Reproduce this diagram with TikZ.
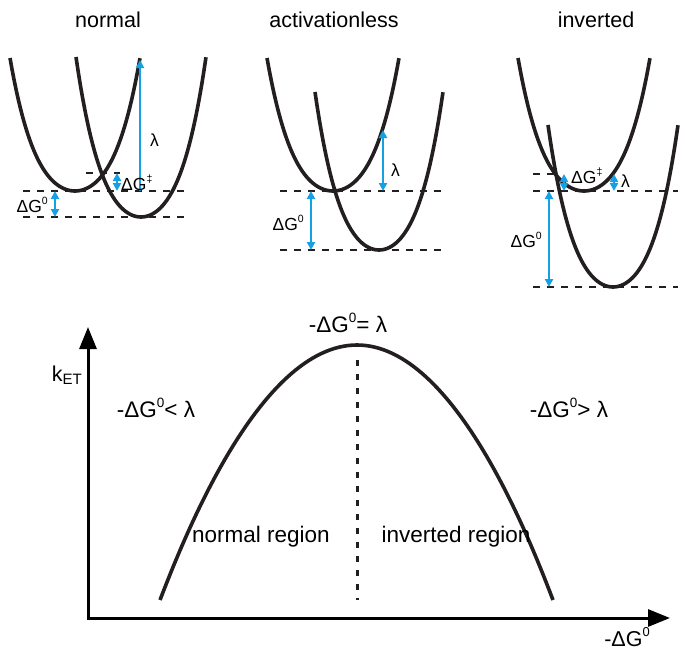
\documentclass[tikz,border=0pt]{standalone}
\usepackage{fontspec}
\setmainfont{Liberation Sans}
\definecolor{etblue}{RGB}{20,160,226}
\definecolor{etblack}{RGB}{35,31,32}
\usetikzlibrary{arrows.meta}
\newcommand{\supsc}[1]{\raisebox{0.85ex}{\scalebox{0.6}{#1}}}

\begin{document}
\begin{tikzpicture}[x=1pt,y=-1pt,
  well/.style={line width=3.6pt, etblack},
  level/.style={line width=2.6pt, etblack, dash pattern=on 7pt off 7pt},
  gap/.style={line width=2.6pt, etblue, {Triangle[length=8pt,width=8pt]}-{Triangle[length=8pt,width=8pt]}},
  rise/.style={line width=2.6pt, etblue, -{Triangle[length=8pt,width=8pt]}},
  axis/.style={line width=3pt, black, -{Triangle[length=22pt,width=17pt]}},
  lbl/.style={font=\fontsize{17.5}{20}\selectfont, inner sep=0pt},
  big/.style={font=\fontsize{21.5}{24}\selectfont, inner sep=0pt},
  plotlbl/.style={font=\fontsize{22.5}{25}\selectfont, inner sep=0pt}]
  \useasboundingbox (0,0) rectangle (685,651);
  % panel titles
  \node[big] (t-normal) at (108,20) {normal};
  \node[big] (t-actless) at (334,20) {activationless};
  \node[big] (t-inv) at (596,20) {inverted};
  % potential wells: centre/minimum/half width/height
  \foreach \cx/\ym/\w/\h in {75/191/65/133, 141/217/65/160,
                             333/191/66/133, 379/250/64/158,
                             584/191/66/133, 613/287/65/162}
    \draw[well] plot[domain=-1:1, samples=61, smooth]
      ({\cx+\w*\x},{\ym-\h*(0.6*\x*\x+0.4*\x*\x*\x*\x)});

  % normal
  \draw[level] (23,191) -- (185,191);
  \draw[level] (23,217) -- (185,217);
  \draw[level] (86,173) -- (120,173);
  \coordinate (n-a) at (140,191);
  \coordinate (n-b) at (140,60);
  \coordinate (n-c) at (117,173);
  \coordinate (n-d) at (117,191);
  \coordinate (n-e) at (55,191);
  \coordinate (n-f) at (55,217);
  \draw[rise] (n-a) -- (n-b);
  \draw[gap] (n-c) -- (n-d);
  \draw[gap] (n-e) -- (n-f);
  \node[lbl, anchor=west] (n-lambda) at (150,140) {λ};
  \node[lbl, anchor=west] (n-act) at (121,183) {ΔG\supsc{‡}};
  \node[lbl, anchor=east] (n-dg) at (48,205) {ΔG\supsc{0}};

  % activationless
  \draw[level] (280,191) -- (443,191);
  \draw[level] (280,250) -- (443,250);
  \coordinate (a-a) at (383,130);
  \coordinate (a-b) at (383,191);
  \coordinate (a-c) at (311,191);
  \coordinate (a-d) at (311,250);
  \draw[gap] (a-a) -- (a-b);
  \draw[gap] (a-c) -- (a-d);
  \node[lbl, anchor=west] (a-lambda) at (391,170) {λ};
  \node[lbl, anchor=east] (a-dg) at (304,223) {ΔG\supsc{0}};

  % inverted
  \draw[level] (533,174) -- (560,174);
  \draw[level] (533,191) -- (678,191);
  \draw[level] (533,287) -- (678,287);
  \coordinate (i-a) at (564,174);
  \coordinate (i-b) at (564,191);
  \coordinate (i-c) at (614,174);
  \coordinate (i-d) at (614,191);
  \coordinate (i-e) at (549,191);
  \coordinate (i-f) at (549,287);
  \draw[gap] (i-a) -- (i-b);
  \draw[gap] (i-c) -- (i-d);
  \draw[gap] (i-e) -- (i-f);
  \node[lbl, anchor=west] (i-act) at (571,176) {ΔG\supsc{‡}};
  \node[lbl, anchor=west] (i-lambda) at (621,181) {λ};
  \node[lbl, anchor=east] (i-dg) at (542,240) {ΔG\supsc{0}};

  % rate vs driving force
  \coordinate (origin) at (88,618);
  \coordinate (ytip) at (88,327);
  \coordinate (xtip) at (670,618);
  \coordinate (peak) at (357,360);
  \coordinate (peakfoot) at (357,600);
  \draw[axis] (origin) -- (ytip);
  \draw[axis] (86.5,618) -- (xtip);
  \draw[well] (160,600) parabola bend (357,345) (553,600);
  \draw[line width=3pt, etblack, dash pattern=on 6pt off 8pt] (peak) -- (peakfoot);
  \node[big] (k-et) at (67,375) {k\textsubscript{ET}};
  \node[plotlbl] (top-eq) at (348,323) {-ΔG\supsc{0}= λ};
  \node[plotlbl] (left-lt) at (156,408) {-ΔG\supsc{0}< λ};
  \node[plotlbl] (right-gt) at (569,408) {-ΔG\supsc{0}> λ};
  \node[plotlbl] (normreg) at (261,537) {normal region};
  \node[plotlbl] (invreg) at (456,537) {inverted region};
  \node[big, anchor=base] (x-label) at (627,646) {-ΔG\supsc{0}};
\end{tikzpicture}
\end{document}
